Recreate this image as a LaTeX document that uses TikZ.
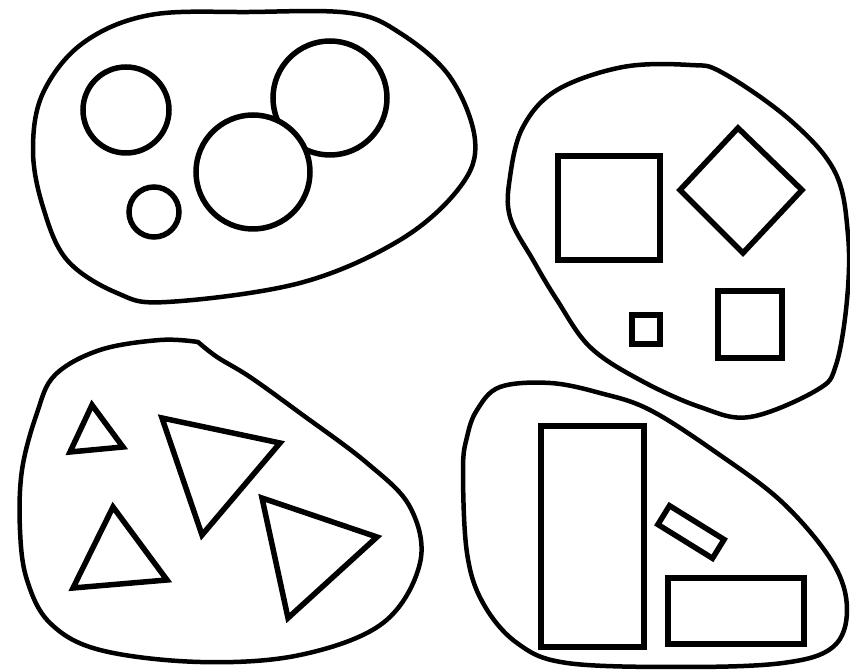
\documentclass[tikz,border=0pt]{standalone}
\begin{document}
\begin{tikzpicture}[x=0.02cm, y=-0.02cm,
    blob/.style={line width=0.09cm, line join=round},
    piece/.style={line width=0.11cm, line join=miter, fill=white}]
    \useasboundingbox (0,0) rectangle (850,671);
    % circles
    \draw[blob] plot[smooth cycle, tension=0.6] coordinates {(150,15) (250,12) (350,13) (400,33) (450,77) (475,140) (460,187) (400,240) (300,283) (167,302) (117,293) (67,260) (43,207) (33,150) (43,93) (83,43)};
    \draw[piece] (126,110) circle (43);
    \draw[piece] (154,212) circle (25);
    \draw[piece] (330,98) circle (57);
    \draw[piece] (253,172) circle (57);
    % squares
    \draw[blob] plot[smooth cycle, tension=0.6] coordinates {(623,67) (690,65) (723,73) (790,120) (835,172) (848,235) (847,300) (836,365) (817,390) (750,417) (700,407) (640,380) (590,347) (557,300) (533,260) (510,217) (510,177) (523,127) (557,90)};
    \draw[piece] (558,156) rectangle (660,260);
    \draw[piece] (738,128) -- (802,190) -- (743,253) -- (680,190) -- cycle;
    \draw[piece] (632,315) rectangle (660,344);
    \draw[piece] (718,291) rectangle (782,358);
    % triangles
    \draw[blob] plot[smooth, tension=0.6] coordinates {(198,342) (217,357) (250,377) (300,413) (367,463) (410,507) (420,563) (383,623) (300,655) (200,662) (100,650) (50,623) (27,580) (20,530) (22,470) (37,413) (55,375) (100,350) (160,340) (198,342)} -- cycle;
    \draw[piece] (92,405) -- (123,447) -- (70,452) -- cycle;
    \draw[piece] (162,418) -- (280,443) -- (202,535) -- cycle;
    \draw[piece] (113,507) -- (167,580) -- (73,588) -- cycle;
    \draw[piece] (262,498) -- (377,537) -- (288,618) -- cycle;
    % rectangles
    \draw[blob] plot[smooth cycle, tension=0.6] coordinates {(550,383) (600,393) (650,410) (717,453) (783,503) (833,563) (847,610) (833,647) (783,663) (683,667) (567,663) (517,643) (483,603) (467,553) (463,470) (467,437) (477,410) (500,387)};
    \draw[piece] (541,426) rectangle (644,647);
    \draw[piece] (668,578) rectangle (804,644);
    \draw[piece] (669.5,505.7) -- (724.1,539.5) -- (712.5,558.3) -- (657.9,524.5) -- cycle;
\end{tikzpicture}
\end{document}
